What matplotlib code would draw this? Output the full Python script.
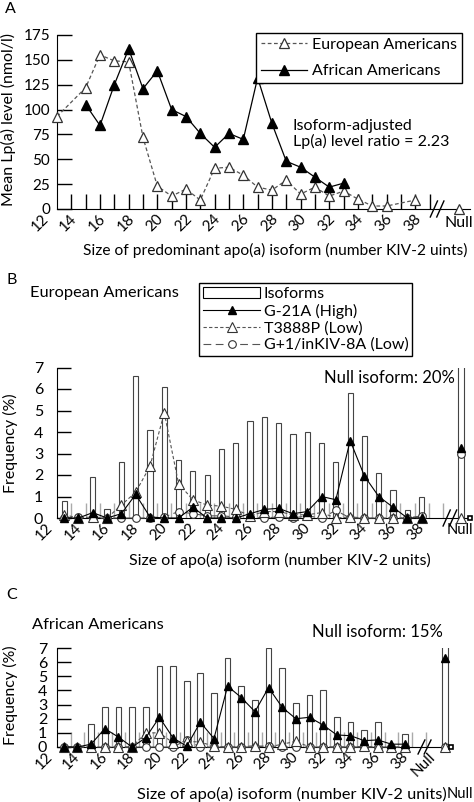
import numpy as np
import matplotlib
matplotlib.use("Agg")
import matplotlib.pyplot as plt
import matplotlib.transforms as mtransforms
from matplotlib.patches import Rectangle

plt.rcParams['font.family'] = ['Lato', 'DejaVu Sans']
plt.rcParams['font.size'] = 11.5

W, H = 474, 802
FS = 11.5   # body text
TS = 10.5   # tick labels

# ---- panel A: mean Lp(a) (nmol/l) by predominant apo(a) isoform ----
ea_size = [13, 15, 16, 17, 18, 19, 20, 21, 22, 23, 24, 25, 26, 27, 28, 29, 30, 31, 32, 33, 34, 35, 36, 38]
ea_lpa = [93, 122, 155, 149, 148, 72, 23, 13, 20, 9, 41, 42, 34, 22, 19, 29, 15, 22, 13, 18, 10, 3, 3, 9]
ea_lpa_null = 0
aa_size = [15, 16, 17, 18, 19, 20, 21, 22, 23, 24, 25, 26, 27, 28, 29, 30, 31, 32, 33]
aa_lpa = [105, 84, 125, 161, 121, 139, 100, 93, 76, 62, 76, 70, 132, 86, 48, 42, 32, 22, 26]
a_yticks = [0, 25, 50, 75, 100, 125, 150, 175]

# ---- panels B and C: isoform frequency (%) and allele carriers ----
sizes = list(range(13, 39))
label_sizes = list(range(12, 39, 2))

eu_iso = [0.8, 0.1, 1.9, 0.4, 2.6, 6.6, 4.1, 6.1, 2.7, 2.2, 2.0, 3.2, 3.5,
          4.5, 4.7, 4.4, 3.9, 4.0, 3.5, 2.6, 5.8, 3.8, 2.1, 1.3, 0.35, 1.0]
eu_g21a = [0, 0, 0.25, 0, 0.2, 1.1, 0.05, 0, 0, 0.5, 0, 0, 0,
           0.2, 0.4, 0.45, 0.2, 0.3, 1.0, 0.85, 3.6, 1.95, 1.0, 0.5, 0, 0]
eu_t3888p = [0.15, 0, 0.05, 0, 0.6, 1.2, 2.4, 4.9, 1.6, 0.85, 0.6, 0.55, 0.4,
             0.1, 0.3, 0.3, 0.15, 0.15, 0.25, 0, 0.05, 0, 0, 0, 0, 0]
eu_g1 = [0, 0.05, 0, 0, 0, 0, 0, 0.05, 0.3, 0.2, 0.1, 0.1, 0.05,
         0.05, 0, 0.05, 0, 0.1, 0, 0.35, 0, 0, 0, 0, 0, 0.1]
eu_null = {'iso': 20, 'g21a': 3.25, 't3888p': 0, 'g1': 3.0}

af_iso = [0, 0, 1.6, 2.8, 2.8, 2.8, 2.8, 5.7, 5.7, 4.7, 5.2, 3.8, 6.3,
          4.3, 3.3, 7.0, 5.6, 3.1, 3.7, 4.0, 2.1, 1.8, 1.2, 1.8, 0, 0.9]
af_g21a = [0, 0, 0.2, 1.3, 0.7, 0, 0.65, 2.1, 0.65, 0.05, 1.75, 0.6, 4.3,
           3.5, 2.5, 4.2, 2.8, 2.0, 2.1, 1.55, 0.85, 0.8, 0.45, 0.5, 0.2, 0.2]
af_t3888p = [0, 0, 0, 0, 0, 0, 1.0, 1.0, 0.3, 0.4, 0.35, 0.05, 0,
             0, 0.1, 0, 0.2, 0.4, 0, 0, 0, 0, 0.05, 0, 0, 0]
af_g1 = [0, 0, 0, 0, 0, 0, 0, 0, 0, 0.5, 0, 0, 0,
         0, 0, 0.1, 0, 0, 0, 0, 0, 0, 0, 0, 0, 0]
af_null = {'iso': 15, 'g21a': 6.3, 't3888p': 0, 'g1': 0}


def rect(left, top, right, bottom):
    return [left / W, 1 - bottom / H, (right - left) / W, (bottom - top) / H]


def draw_break(ax, xb, half_px):
    fr = half_px / (ax.get_position().height * H)
    tr = ax.get_xaxis_transform()
    for dx in (-0.25, 0.2):
        ax.plot([xb + dx - 0.25, xb + dx + 0.25], [-fr, fr], color='black',
                lw=1, transform=tr, clip_on=False, zorder=6)


def xlabels(ax, pos, texts, rot=45):
    tr = mtransforms.offset_copy(ax.get_xaxis_transform(), fig=fig, x=0, y=-3, units='dots')
    for p, t in zip(pos, texts):
        ax.text(p, 0, t, rotation=rot, ha='right', va='top', transform=tr, fontsize=TS + 0.5)


fig = plt.figure(figsize=(W / 100, H / 100), dpi=100)

# ================= A =================
axA = fig.add_axes(rect(57, 35, 470, 209))
axA.plot(ea_size, ea_lpa, color='#555555', lw=0.9, dashes=(3, 2), marker='^', ms=7.5,
         mfc='white', mec='#333333', mew=0.9, clip_on=False, zorder=3, label='European Americans')
axA.plot(aa_size, aa_lpa, color='black', lw=0.9, marker='^', ms=7.5, mfc='black', mec='black',
         clip_on=False, zorder=4, label='African Americans')
null_a = 41.05
axA.plot([null_a], [ea_lpa_null], ls='none', marker='^', ms=7.5, mfc='white', mec='#333333',
         mew=0.9, clip_on=False, zorder=3)
axA.set_xlim(13, 13 + 413 / 14.33)
axA.set_ylim(0, 175)
axA.set_yticks(a_yticks)
axA.set_xticks(np.arange(14, 40))
axA.set_xticklabels([])
axA.tick_params(axis='x', direction='in', length=11, width=1, color='black')
axA.tick_params(axis='y', direction='in', length=11, width=1, pad=5, labelsize=TS + 0.5)
for s in ('top', 'right'):
    axA.spines[s].set_visible(False)
xlabels(axA, [k + 0.6 for k in label_sizes], [str(k) for k in label_sizes])
axA.text(null_a, 0, 'Null', ha='center', va='top', fontsize=FS,
         transform=mtransforms.offset_copy(axA.get_xaxis_transform(), fig=fig, y=-7, units='dots'))
draw_break(axA, 39.55, 8)
legA = fig.legend(loc='upper right', bbox_to_anchor=(462 / W, 1 - 33 / H), frameon=True,
                  fancybox=False, edgecolor='black', framealpha=1, handlelength=2.9,
                  labelspacing=0.75, borderpad=0.3, handletextpad=0.3, fontsize=FS,
                  borderaxespad=0)
legA.get_frame().set_linewidth(1)
fig.text(293 / W, 1 - 134 / H, 'Isoform-adjusted\nLp(a) level ratio = 2.23', ha='left',
         va='center', fontsize=FS, linespacing=1.1)
fig.text(275 / W, 1 - 250 / H, 'Size of predominant apo(a) isoform (number KIV-2 uints)',
         ha='center', va='center', fontsize=11.2)
fig.text(8 / W, 1 - 120 / H, 'Mean Lp(a) level (nmol/l)', rotation=90, ha='center',
         va='center', fontsize=FS)
fig.text(10 / W, 1 - 9 / H, 'A', ha='center', va='center', fontsize=FS)


# ================= B and C =================
def freq_panel(ax, iso, g21a, t3888p, g1, null, null_x, xmax, bar_w, ypad):
    ax.bar(sizes, iso, width=bar_w, color='white', edgecolor='#444444', lw=0.8, zorder=1)
    ax.bar([null_x], [null['iso']], width=bar_w, color='white', edgecolor='#444444', lw=0.8, zorder=1)
    l1, = ax.plot(sizes, g21a, color='black', lw=0.8, marker='^', ms=6, mfc='black',
                  mec='black', clip_on=False, zorder=5)
    l2, = ax.plot(sizes, t3888p, color='#555555', lw=0.8, dashes=(3, 2), marker='^', ms=7,
                  mfc='white', mec='#333333', mew=0.8, clip_on=False, zorder=4)
    l3, = ax.plot(sizes, g1, color='#555555', lw=0.8, dashes=(7, 4), marker='o', ms=5.5,
                  mfc='white', mec='#333333', mew=0.8, clip_on=False, zorder=3)
    ax.plot([null_x], [null['g1']], ls='none', marker='o', ms=5.5, mfc='white', mec='#333333',
            mew=0.8, clip_on=False, zorder=3)
    ax.plot([null_x], [null['t3888p']], ls='none', marker='^', ms=7, mfc='white', mec='#333333',
            mew=0.8, clip_on=False, zorder=4)
    ax.plot([null_x], [null['g21a']], ls='none', marker='^', ms=6, mfc='black', mec='black',
            clip_on=False, zorder=5)
    ax.set_xlim(12.5, xmax)
    ax.set_ylim(0, 7)
    ax.set_yticks(range(0, 8))
    ax.set_xticks(np.arange(13.5, 40, 1))
    ax.set_xticklabels([])
    ax.tick_params(axis='x', direction='in', length=11, width=1, color='#aaaaaa')
    ax.tick_params(axis='y', direction='in', length=10, width=1, pad=ypad, labelsize=TS + 1)
    for s in ('top', 'right'):
        ax.spines[s].set_visible(False)
    xlabels(ax, [k + 0.4 for k in label_sizes], [str(k) for k in label_sizes])
    ax.plot([xmax], [0], ls='none', marker='s', ms=3, mfc='white', mec='black', mew=1.2,
            clip_on=False, zorder=6)
    return l1, l2, l3


axB = fig.add_axes(rect(57, 367.5, 470, 518))
xmaxB = 12.5 + 413 / 14.3
null_b = 40.75
hB = freq_panel(axB, eu_iso, eu_g21a, eu_t3888p, eu_g1, eu_null, null_b, xmaxB, 0.37, 10)
draw_break(axB, 40.0, 8)
axB.text(null_b - 0.1, 0, 'Null', ha='center', va='top', fontsize=10.5,
         transform=mtransforms.offset_copy(axB.get_xaxis_transform(), fig=fig, y=-5, units='dots'))
iso_handle = Rectangle((0, 0), 1, 1, facecolor='white', edgecolor='black', lw=0.8)
legB = fig.legend([iso_handle, hB[0], hB[1], hB[2]],
                  ['Isoforms', 'G-21A (High)', 'T3888P (Low)', 'G+1/inKIV-8A (Low)'],
                  loc='upper left', bbox_to_anchor=(199 / W, 1 - 283 / H), frameon=True,
                  fancybox=False, edgecolor='black', framealpha=1, handlelength=3.6,
                  labelspacing=0.15, borderpad=0.25, handletextpad=0.2, fontsize=FS,
                  borderaxespad=0)
legB.get_frame().set_linewidth(1)
fig.text(12 / W, 1 - 280 / H, 'B', ha='center', va='center', fontsize=FS)
fig.text(30 / W, 1 - 293 / H, 'European Americans', ha='left', va='center', fontsize=11.8)
fig.text(455 / W, 1 - 378 / H, 'Null isoform: 20%', ha='right', va='center', fontsize=12)
fig.text(280 / W, 1 - 560 / H, 'Size of apo(a) isoform (number KIV-2 units)', ha='center',
         va='center', fontsize=FS)
fig.text(10 / W, 1 - 443 / H, 'Frequency (%)', rotation=90, ha='center', va='center',
         fontsize=FS)

axC = fig.add_axes(rect(57, 648, 451, 747))
xmaxC = 12.5 + 394 / 13.65
null_c = 40.95
freq_panel(axC, af_iso, af_g21a, af_t3888p, af_g1, af_null, null_c, xmaxC, 0.42, 7)
draw_break(axC, 39.45, 7)
xlabels(axC, [null_c - 0.5], ['Null'])
fig.text(12 / W, 1 - 595 / H, 'C', ha='center', va='center', fontsize=FS)
fig.text(32 / W, 1 - 625 / H, 'African Americans', ha='left', va='center', fontsize=11.8)
fig.text(443 / W, 1 - 632 / H, 'Null isoform: 15%', ha='right', va='center', fontsize=12)
fig.text(447 / W, 1 - 794 / H, 'Size of apo(a) isoform (number KIV-2 units)', ha='right',
         va='center', fontsize=11.8)
fig.text(473 / W, 1 - 794 / H, 'Null', ha='right', va='center', fontsize=10.5)
fig.text(10 / W, 1 - 695 / H, 'Frequency (%)', rotation=90, ha='center', va='center',
         fontsize=FS)

fig.savefig('out.png', dpi=100)
